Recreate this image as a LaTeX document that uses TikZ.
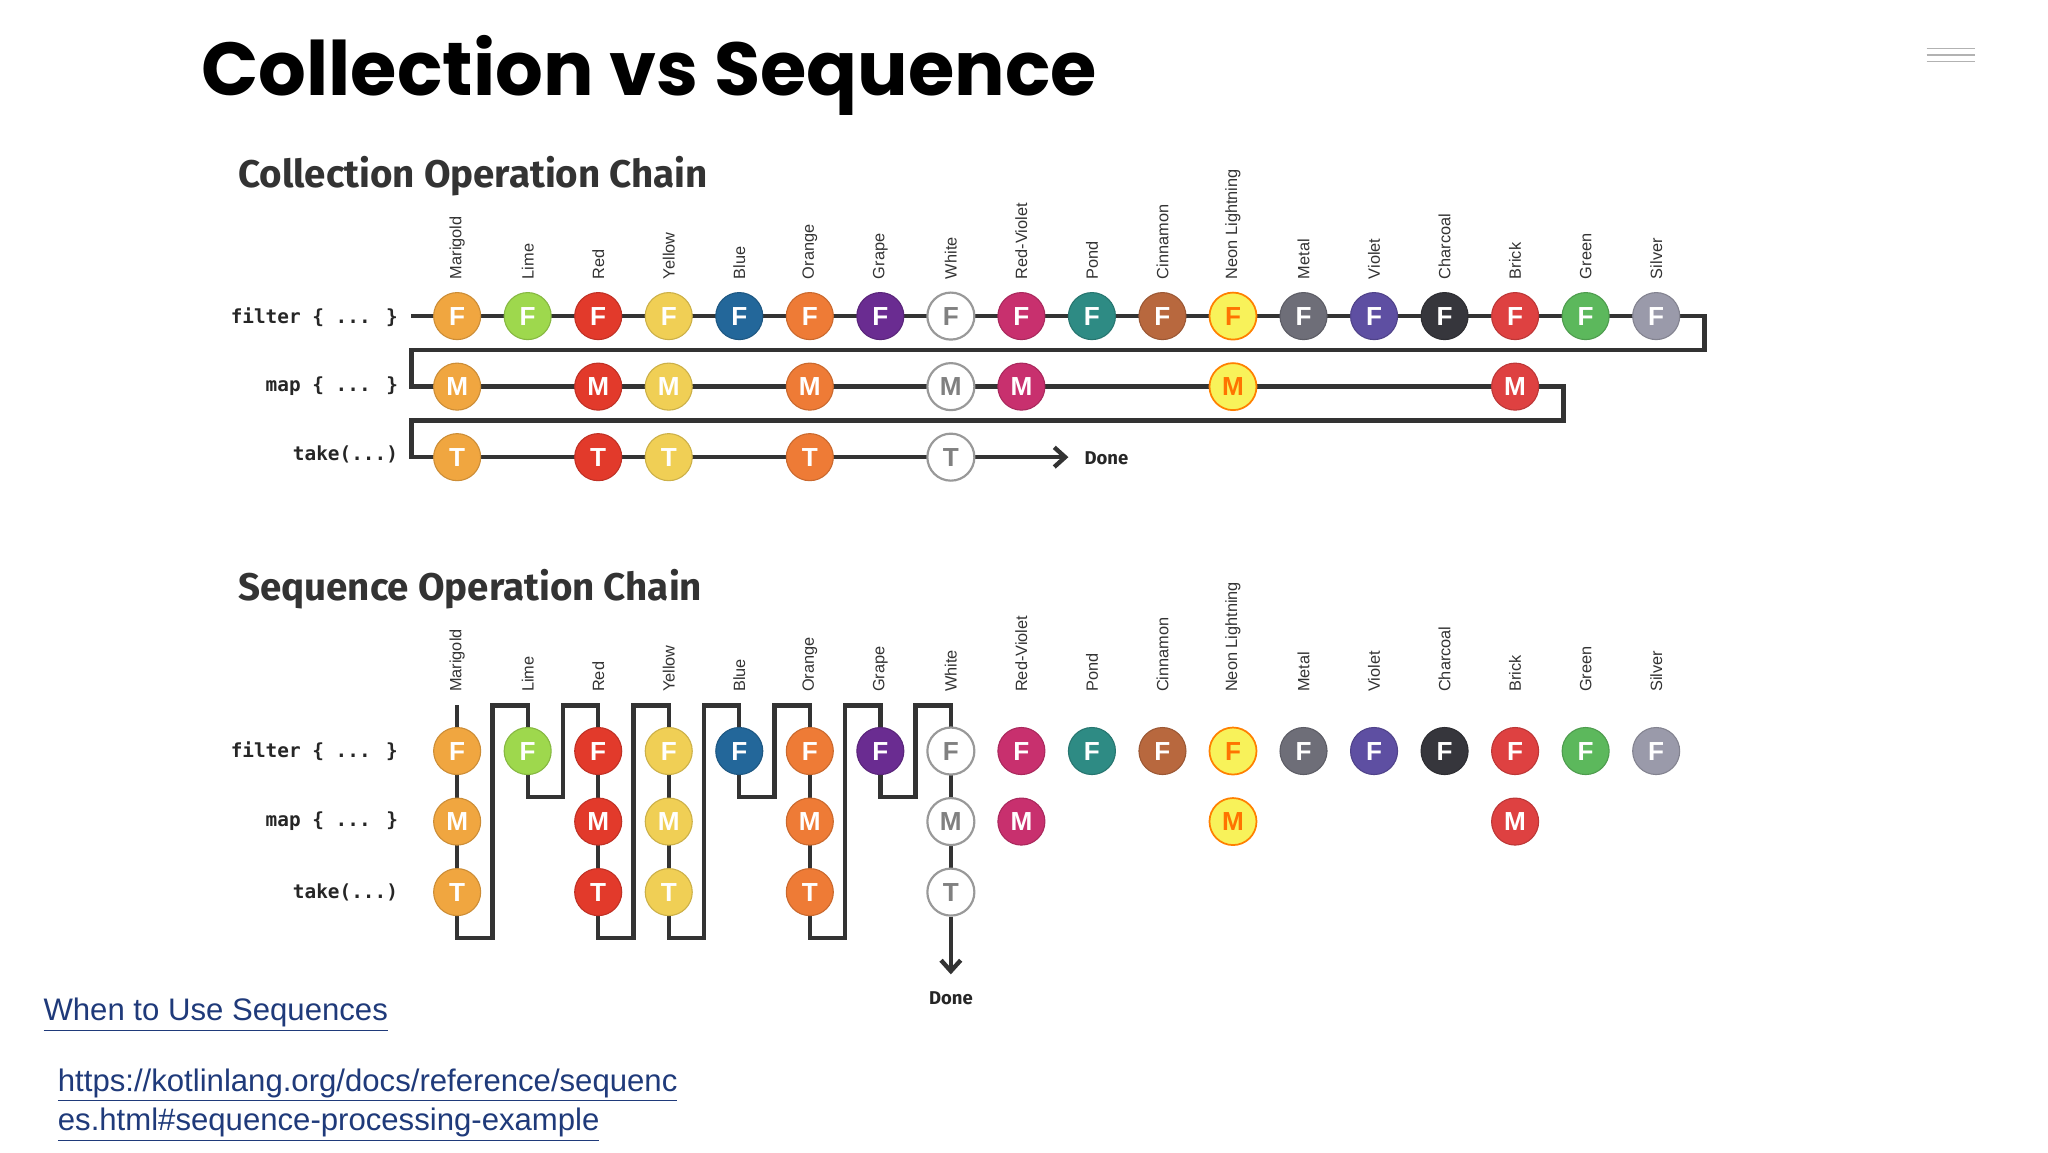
\documentclass[tikz,border=0pt]{standalone}
\usepackage{fontspec}
\setmainfont{Liberation Sans}
\newfontfamily\titlefont{Poppins}[Scale=1]
\newfontfamily\headfont{Fira Sans}
\newfontfamily\monofont{DejaVu Sans Mono}
\usetikzlibrary{backgrounds,arrows.meta}
\definecolor{cMarigold}{HTML}{F0A640}
\definecolor{cLime}{HTML}{9ED84D}
\definecolor{cRed}{HTML}{E23A2B}
\definecolor{cYellow}{HTML}{F0CF55}
\definecolor{cBlue}{HTML}{23679A}
\definecolor{cOrange}{HTML}{EE7B36}
\definecolor{cGrape}{HTML}{6A2C91}
\definecolor{cWhite}{HTML}{FFFFFF}
\definecolor{cRedViolet}{HTML}{C8306E}
\definecolor{cPond}{HTML}{2E8B84}
\definecolor{cCinnamon}{HTML}{B8683E}
\definecolor{cNeon}{HTML}{F8F25A}
\definecolor{cMetal}{HTML}{6E6E78}
\definecolor{cViolet}{HTML}{5E4FA2}
\definecolor{cCharcoal}{HTML}{36363C}
\definecolor{cBrick}{HTML}{DE4141}
\definecolor{cGreen}{HTML}{5CB85C}
\definecolor{cSilver}{HTML}{9A9AAA}
\definecolor{linkblue}{HTML}{1F3A7A}
\definecolor{lineg}{HTML}{333333}
\tikzset{
  ball/.style={circle,minimum size=21.6pt,inner sep=0pt,font=\fontsize{12}{12}\selectfont\bfseries,text=white,draw=#1!85!black,line width=0.5pt,fill=#1},
  wball/.style={circle,minimum size=21.6pt,inner sep=0pt,font=\fontsize{12}{12}\selectfont\bfseries,text=gray,draw=gray!80,line width=1pt,fill=white},
  nball/.style={circle,minimum size=21.6pt,inner sep=0pt,font=\fontsize{12}{12}\selectfont\bfseries,text=orange!90!red,draw=orange,line width=0.8pt,fill=cNeon},
  chain/.style={draw=lineg,line width=2pt},
  clabel/.style={rotate=90,anchor=west,inner sep=0pt,font=\fontsize{7.5}{8}\selectfont,text=black!80},
  rlabel/.style={anchor=east,inner sep=0pt,font=\monofont\bfseries\fontsize{8.9}{9}\selectfont,text=black!85},
  head/.style={anchor=west,inner sep=0pt,font=\headfont\bfseries\fontsize{17.7}{18}\selectfont,text=black!80},
  done/.style={inner sep=0pt,font=\headfont\bfseries\fontsize{8.5}{9}\selectfont,text=black!85},
  link/.style={anchor=west,inner sep=0pt,font=\fontsize{14.3}{17}\selectfont,text=linkblue}
}
\newcommand{\mkball}[4]{%
  \ifnum#4=8 \node[wball] (#1) at ({#2},{#3}) {\ltr};
  \else\ifnum#4=12 \node[nball] (#1) at ({#2},{#3}) {\ltr};
  \else \node[ball=\csname col#4\endcsname] (#1) at ({#2},{#3}) {\ltr};\fi\fi}
\expandafter\def\csname col1\endcsname{cMarigold}
\expandafter\def\csname col2\endcsname{cLime}
\expandafter\def\csname col3\endcsname{cRed}
\expandafter\def\csname col4\endcsname{cYellow}
\expandafter\def\csname col5\endcsname{cBlue}
\expandafter\def\csname col6\endcsname{cOrange}
\expandafter\def\csname col7\endcsname{cGrape}
\expandafter\def\csname col8\endcsname{cWhite}
\expandafter\def\csname col9\endcsname{cRedViolet}
\expandafter\def\csname col10\endcsname{cPond}
\expandafter\def\csname col11\endcsname{cCinnamon}
\expandafter\def\csname col12\endcsname{cNeon}
\expandafter\def\csname col13\endcsname{cMetal}
\expandafter\def\csname col14\endcsname{cViolet}
\expandafter\def\csname col15\endcsname{cCharcoal}
\expandafter\def\csname col16\endcsname{cBrick}
\expandafter\def\csname col17\endcsname{cGreen}
\expandafter\def\csname col18\endcsname{cSilver}
\begin{document}
\begin{tikzpicture}[x=0.6pt,y=-0.6pt]
\useasboundingbox (0,0) rectangle (1568,882);
\node[anchor=west,inner sep=0pt,font=\titlefont\bfseries\fontsize{34.5}{35}\selectfont] (title) at (154,58) {Collection vs Sequence};
\foreach \yy in {37,42,47} \draw[gray!60,line width=0.6pt] (1475,\yy) -- (1512,\yy);
\node[head] (h1) at (182,135) {Collection Operation Chain};
\node[head] (h2) at (182,451) {Sequence Operation Chain};
\foreach \nm [count=\i] in {Marigold,Lime,Red,Yellow,Blue,Orange,Grape,White,Red-Violet,Pond,Cinnamon,Neon Lightning,Metal,Violet,Charcoal,Brick,Green,Silver}{
  \node[clabel] (la\i) at ({350+54*(\i-1)},214) {\nm};
  \node[clabel] (lb\i) at ({350+54*(\i-1)},530) {\nm};
}
\node[rlabel] (r1) at (305,243) {filter \{ ... \}};
\node[rlabel] (r2) at (305,296) {map \{ ... \}};
\node[rlabel] (r3) at (305,348) {take(...)};
\node[rlabel] (s1) at (305,575) {filter \{ ... \}};
\node[rlabel] (s2) at (305,629) {map \{ ... \}};
\node[rlabel] (s3) at (305,683) {take(...)};
\def\ltr{F}
\foreach \i in {1,...,18}{\mkball{cf\i}{350+54*(\i-1)}{242}{\i}}
\def\ltr{M}
\foreach \i in {1,3,4,6,8,9,12,16}{\mkball{cm\i}{350+54*(\i-1)}{296}{\i}}
\def\ltr{T}
\foreach \i in {1,3,4,6,8}{\mkball{ct\i}{350+54*(\i-1)}{350}{\i}}
\def\ltr{F}
\foreach \i in {1,...,18}{\mkball{sf\i}{350+54*(\i-1)}{575}{\i}}
\def\ltr{M}
\foreach \i in {1,3,4,6,8,9,12,16}{\mkball{sm\i}{350+54*(\i-1)}{629}{\i}}
\def\ltr{T}
\foreach \i in {1,3,4,6,8}{\mkball{st\i}{350+54*(\i-1)}{683}{\i}}
\coordinate (cs) at (315,242);
\coordinate (cdone) at (818,350);
\node[done,anchor=west] (cdn) at (830,351) {Done};
\coordinate (sstart) at (350,540);
\coordinate (sdone) at (728,746);
\node[done] (sdn) at (728,764) {Done};
\begin{scope}[on background layer]
\fill[white] (0,0) rectangle (1568,882);
\draw[chain] (cs) -- (cf18.center) -- (1305,242) -- (1305,268) -- (315,268) -- (315,296) -- (cm16.center) -- (1197,296) -- (1197,322) -- (315,322) -- (315,350) -- (ct8.center);
\draw[chain,-{Straight Barb[length=5pt,width=9pt]}] (ct8) -- (cdone);
\draw[chain] (sstart) -- (st1.center) -- (350,718) -- (377,718) -- (377,540) -- (404,540) -- (sf2.center) -- (404,610) -- (431,610) -- (431,540)
  -- (458,540) -- (st3.center) -- (458,718) -- (485,718) -- (485,540) -- (512,540) -- (st4.center) -- (512,718) -- (539,718) -- (539,540)
  -- (566,540) -- (sf5.center) -- (566,610) -- (593,610) -- (593,540) -- (620,540) -- (st6.center) -- (620,718) -- (647,718) -- (647,540)
  -- (674,540) -- (sf7.center) -- (674,610) -- (701,610) -- (701,540) -- (728,540) -- (st8.center);
\draw[chain,-{Straight Barb[length=5pt,width=9pt]}] (st8) -- (sdone);
\end{scope}
\node[link] (l1) at (33,777) {\underline{When to Use Sequences}};
\node[link,align=left,anchor=north west] (l2) at (44,818) {\underline{https://kotlinlang.org/docs/reference/sequenc}\\[1pt]\underline{es.html\#sequence-processing-example}};
\end{tikzpicture}
\end{document}
